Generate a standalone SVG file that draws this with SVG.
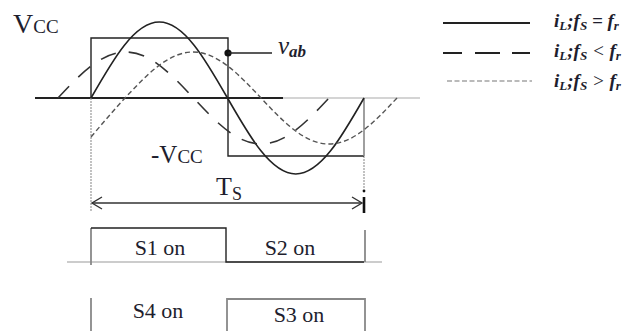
<svg xmlns="http://www.w3.org/2000/svg" width="635" height="331" viewBox="0 0 635 331">
<defs>
<style>
.t{font-family:"Liberation Serif","Times New Roman",serif;fill:#1e1e2e;}
.bi{font-weight:bold;font-style:italic;}
.solid{fill:none;stroke:#222;stroke-width:1.6;}
.ldash{fill:none;stroke:#333;stroke-width:1.6;stroke-dasharray:16 13;}
.sdash{fill:none;stroke:#555;stroke-width:1.4;stroke-dasharray:5 3;}
.grid{fill:none;stroke:#999;stroke-width:1.2;stroke-dasharray:2 1;}
.sw{fill:none;stroke:#222;stroke-width:1.4;}
.swg{fill:none;stroke:#888;stroke-width:1.8;}
</style>
</defs>
<rect width="635" height="331" fill="#fff"/>

<g id="axes">
<line x1="35" y1="98" x2="283" y2="98" stroke="#222" stroke-width="1.8"/>
<line x1="283" y1="98" x2="420" y2="98" stroke="#aaa" stroke-width="1.2"/>
<line class="grid" x1="91" y1="98" x2="91" y2="212"/>
<line class="grid" x1="364" y1="156" x2="364" y2="188"/>
</g>

<g id="square-wave">
<path class="sw" d="M91,98 V38 H228 V156 H364"/>
<path d="M364,156 V98" fill="none" stroke="#888" stroke-width="1.6"/>
<circle cx="228" cy="53" r="3.6" fill="#111"/>
<line x1="228" y1="53" x2="272" y2="53" stroke="#222" stroke-width="1.4"/>
<text class="t" x="278" y="54" font-size="25" font-style="italic">v<tspan font-size="17" font-weight="bold" dy="3">ab</tspan></text>
</g>

<g id="currents">
<path class="solid" d="M91,98 C113.26,59.07 134.55,22 159.25,22 C183.95,22 205.24,59.07 227.5,98 C249.76,136.93 271.05,174 295.75,174 C320.45,174 341.74,136.93 364,98"/>
<path class="ldash" d="M58,98 C80.09,74.43 101.23,52 125.75,52 C150.27,52 171.41,74.43 193.5,98 C215.59,121.57 236.73,144 261.25,144 C285.77,144 306.91,121.57 329,98"/>
<path class="sdash" d="M91,137 C102,124 113,111 125,98 C147.17,74.43 168.39,52 193,52 C217.61,52 238.83,74.43 261,98 C283.17,121.57 304.39,144 329,144 C353.61,144 374.83,121.57 397,98"/>
</g>

<g id="labels">
<text class="t" x="13" y="33" font-size="28">V<tspan font-size="19">CC</tspan></text>
<text class="t" x="151" y="163" font-size="25">-V<tspan font-size="19">CC</tspan></text>
<text class="t" x="216" y="195" font-size="26">T<tspan font-size="18" dy="5">S</tspan></text>
</g>

<g id="period-arrow">
<line x1="92" y1="203" x2="362" y2="203" stroke="#333" stroke-width="1.6"/>
<path d="M102,197 L92,203 L102,209" fill="none" stroke="#333" stroke-width="1.4"/>
<path d="M352,197 L362,203 L352,209" fill="none" stroke="#333" stroke-width="1.4"/>
<line x1="364" y1="197" x2="364" y2="213" stroke="#111" stroke-width="2.6"/>
<circle cx="364" cy="191" r="1.4" fill="#111"/>
</g>

<g id="legend">
<line x1="443" y1="23" x2="530" y2="23" stroke="#222" stroke-width="2"/>
<line x1="443" y1="53" x2="530" y2="53" stroke="#222" stroke-width="2" stroke-dasharray="19 13 25 12 19"/>
<line x1="447" y1="81" x2="532" y2="81" stroke="#777" stroke-width="1.2" stroke-dasharray="5 2.5"/>
<text class="t bi" x="554" y="27" font-size="19">i<tspan font-size="13" dy="3">L</tspan><tspan dy="-3">;f</tspan><tspan font-size="13" dy="3">S</tspan><tspan dy="-3"> = f</tspan><tspan font-size="13" dy="3">r</tspan></text>
<text class="t bi" x="554" y="57" font-size="19">i<tspan font-size="13" dy="3">L</tspan><tspan dy="-3">;f</tspan><tspan font-size="13" dy="3">S</tspan><tspan dy="-3" font-weight="normal"> &lt; </tspan><tspan>f</tspan><tspan font-size="13" dy="3">r</tspan></text>
<text class="t bi" x="554" y="87" font-size="19">i<tspan font-size="13" dy="3">L</tspan><tspan dy="-3">;f</tspan><tspan font-size="13" dy="3">S</tspan><tspan dy="-3" font-weight="normal"> &gt; </tspan><tspan>f</tspan><tspan font-size="13" dy="3">r</tspan></text>
</g>

<g id="switch-s1-s2">
<line x1="67" y1="262" x2="382" y2="262" stroke="#999" stroke-width="1.2"/>
<line class="swg" x1="91" y1="228" x2="91" y2="265"/>
<path class="sw" d="M91,228 H226 V262 H364"/>
<line class="swg" x1="365" y1="230" x2="365" y2="262"/>
<text class="t" x="160" y="255" font-size="22" text-anchor="middle">S1 on</text>
<text class="t" x="290" y="255" font-size="22" text-anchor="middle">S2 on</text>
</g>

<g id="switch-s3-s4">
<line class="swg" x1="91" y1="298" x2="91" y2="331"/>
<path class="swg" d="M227,331 V299 H365 V331"/>
<text class="t" x="158" y="318" font-size="22" text-anchor="middle">S4 on</text>
<text class="t" x="299" y="322" font-size="22" text-anchor="middle">S3 on</text>
</g>
</svg>
